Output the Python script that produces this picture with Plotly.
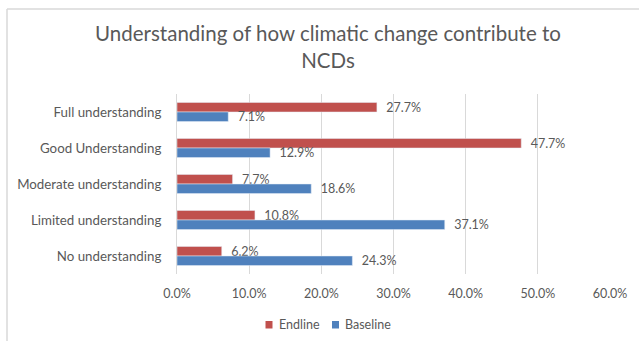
import plotly.graph_objects as go

categories = [
    "Full understanding",
    "Good Understanding",
    "Moderate understanding",
    "Limited understanding",
    "No understanding",
]
endline = [27.7, 47.7, 7.7, 10.8, 6.2]
baseline = [7.1, 12.9, 18.6, 37.1, 24.3]
x_ticks = [0, 10, 20, 30, 40, 50, 60]
x_tick_labels = [f"{v:.1f}%" for v in x_ticks]
series_names = ["Endline", "Baseline"]
series_colors = ["#C0504D", "#4F81BD"]

TEXT = "#595959"
FONT = "Lato"
GAP = "\u00a0\u00a0"  # small gap between bar end and its value label

fig = go.Figure()
for name, vals, color in zip(series_names, [endline, baseline], series_colors):
    fig.add_trace(go.Bar(
        name=name, y=categories, x=vals, orientation="h",
        marker=dict(color=color),
        text=[f"{GAP}{v:.1f}%" for v in vals], textposition="outside",
        constraintext="none", textangle=0,
        textfont=dict(family=FONT, size=12.5, color=TEXT), cliponaxis=False,
        showlegend=False,
    ))

L, R, T, B = 177, 29, 94, 67
W, H = 639, 341
pw, ph = W - L - R, H - T - B


def px_x(px):
    return (px - L) / pw


def px_y(py):
    return (H - B - py) / ph


fig.update_layout(
    width=W, height=H,
    margin=dict(l=L, r=R, t=T, b=B, autoexpand=False),
    paper_bgcolor="white", plot_bgcolor="white",
    barmode="group", bargap=0.47, bargroupgap=0,
    font=dict(family=FONT, size=12, color=TEXT),
    title=dict(
        text="Understanding of how climatic change contribute to<br>NCDs",
        font=dict(family=FONT, size=20.5, color=TEXT, weight=400),
        x=328 / W, xanchor="center", xref="container",
        y=1 - 41 / H, yanchor="middle", yref="container",
    ),
    xaxis=dict(
        range=[0, 60], tickvals=x_ticks, ticktext=x_tick_labels,
        showgrid=True, gridcolor="#D9D9D9", gridwidth=1,
        zeroline=False, showline=False, ticks="", ticklabelstandoff=10,
        tickfont=dict(family=FONT, size=12.5, color=TEXT), automargin=False,
    ),
    yaxis=dict(
        categoryorder="array", categoryarray=categories,
        autorange="reversed", showgrid=False, zeroline=False,
        showline=True, linecolor="#D9D9D9", linewidth=1,
        ticks="", ticklabelstandoff=12, automargin=False,
        tickfont=dict(family=FONT, size=13.3, color=TEXT),
    ),
    showlegend=False,
)

# Legend: small colour squares followed by series names
legend_items = [(265.5, 277), (332, 343)]
for (sq_x, txt_x), name, color in zip(legend_items, series_names, series_colors):
    fig.add_shape(type="rect", xref="paper", yref="paper",
                  x0=px_x(sq_x), x1=px_x(sq_x + 7),
                  y0=px_y(321), y1=px_y(328.5),
                  fillcolor=color, line=dict(width=0))
    fig.add_annotation(xref="paper", yref="paper",
                       x=px_x(txt_x), y=px_y(324.5),
                       xanchor="left", yanchor="middle", showarrow=False,
                       text=name, font=dict(family=FONT, size=12.5, color=TEXT))

# Outer chart frame (top and left edges)
fig.add_shape(type="line", xref="paper", yref="paper",
              x0=px_x(7), x1=px_x(W + 5), y0=px_y(9), y1=px_y(9),
              line=dict(color="#D9D9D9", width=1.5))
fig.add_shape(type="line", xref="paper", yref="paper",
              x0=px_x(7), x1=px_x(7), y0=px_y(9), y1=px_y(H + 5),
              line=dict(color="#D9D9D9", width=1.5))

fig.write_html("out.html")
